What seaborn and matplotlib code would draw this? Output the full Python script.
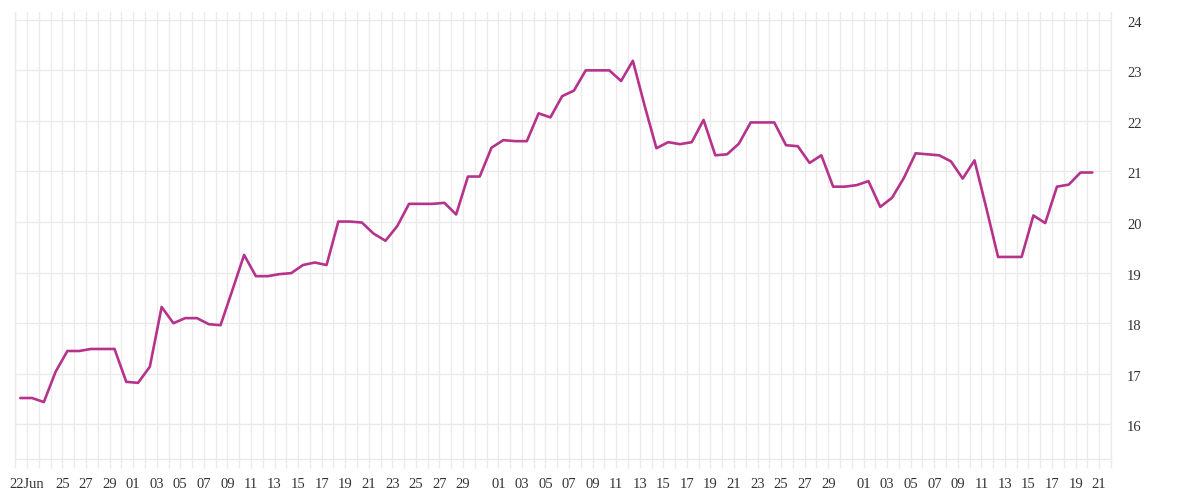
import pandas as pd
import matplotlib
matplotlib.use('Agg')
import matplotlib.pyplot as plt
import matplotlib.dates as mdates
import matplotlib.transforms as mtransforms
import seaborn as sns

# Daily values (one point per day)
start = '2023-06-21 10:00'
values = [16.52, 16.52, 16.44, 17.04, 17.45, 17.45, 17.49, 17.49, 17.49, 16.84,
          16.82, 17.14, 18.32, 18.00, 18.10, 18.10, 17.98, 17.96, 18.65, 19.35,
          18.93, 18.93, 18.97, 18.99, 19.15, 19.20, 19.15, 20.01, 20.01, 19.99,
          19.77, 19.63, 19.92, 20.36, 20.36, 20.36, 20.38, 20.15, 20.90, 20.90,
          21.47, 21.62, 21.60, 21.60, 22.15, 22.07, 22.49, 22.60, 23.00, 23.00,
          23.00, 22.79, 23.19, 22.30, 21.46, 21.58, 21.54, 21.58, 22.02, 21.32,
          21.34, 21.55, 21.97, 21.97, 21.97, 21.52, 21.50, 21.17, 21.32, 20.70,
          20.70, 20.73, 20.81, 20.30, 20.48, 20.87, 21.36, 21.34, 21.32, 21.20,
          20.86, 21.22, 20.28, 19.31, 19.31, 19.31, 20.13, 19.98, 20.70, 20.74,
          20.98, 20.98]

# x tick positions / labels
tick_dates = (['2023-06-22', '2023-06-25', '2023-06-27', '2023-06-29']
              + [f'2023-07-{d:02d}' for d in range(1, 30, 2)]
              + [f'2023-08-{d:02d}' for d in range(1, 30, 2)]
              + [f'2023-09-{d:02d}' for d in range(1, 22, 2)])
tick_labels = ['22Jun'] + [d[-2:] for d in tick_dates[1:]]
y_ticks = [16, 17, 18, 19, 20, 21, 22, 23, 24]

df = pd.DataFrame({'date': pd.date_range(start, periods=len(values), freq='D'),
                   'value': values})

sns.set_style('white')
plt.rcParams['font.family'] = ['Liberation Serif', 'DejaVu Serif']

grid_col = '#ebebeb'
fig = plt.figure(figsize=(12, 5), dpi=100)
ax = fig.add_axes([0.0128, 0.0826, 0.9130, 0.8940])

sns.lineplot(data=df, x='date', y='value', color='#b5338a', linewidth=1.9, ax=ax)

ax.set_xlim(pd.Timestamp('2023-06-21'), pd.Timestamp('2023-09-22'))
ax.set_ylim(15.32, 24.16)

ax.set_xticks(pd.to_datetime(tick_dates))
ax.set_xticklabels(tick_labels)
ax.xaxis.set_minor_locator(mdates.DayLocator())
ax.set_yticks(y_ticks)
ax.yaxis.tick_right()

ax.grid(which='both', axis='x', color=grid_col, linewidth=1)
ax.grid(which='major', axis='y', color=grid_col, linewidth=1)
ax.set_axisbelow(True)

ax.tick_params(axis='x', which='both', bottom=True, length=6.8, width=1,
               color=grid_col, pad=7, labelsize=10.5, labelcolor='#333333')
ax.tick_params(axis='y', which='both', length=0, pad=11.5, labelsize=10.5,
               labelcolor='#333333')

# nudge the right-hand labels down slightly
offset = mtransforms.ScaledTranslation(0, -2 / 100, fig.dpi_scale_trans)
for lab in ax.get_yticklabels():
    lab.set_transform(lab.get_transform() + offset)

for side in ['left', 'right', 'bottom']:
    ax.spines[side].set_color(grid_col)
    ax.spines[side].set_linewidth(1)
ax.spines['top'].set_visible(False)

ax.set_xlabel('')
ax.set_ylabel('')

fig.savefig('out.png', dpi=100)
